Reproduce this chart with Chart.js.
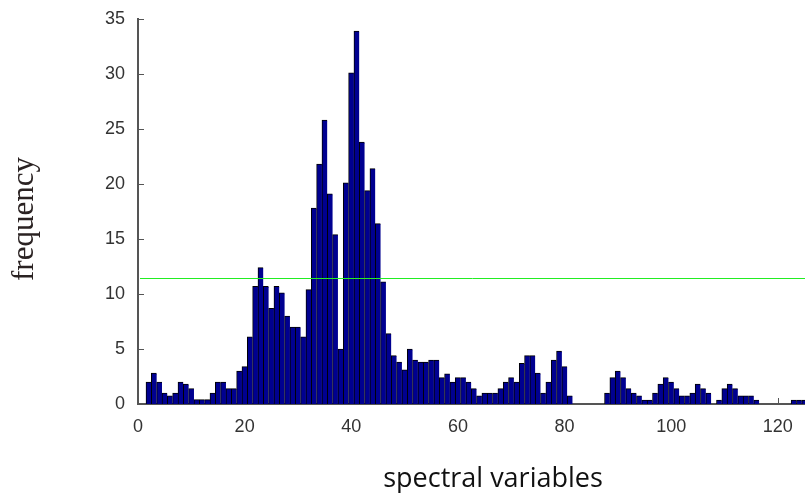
<!DOCTYPE html>
<html>
<head>
<meta charset="utf-8">
<script src="https://cdn.jsdelivr.net/npm/chart.js@4.4.0/dist/chart.umd.min.js"></script>
<style>
  html, body { margin: 0; padding: 0; background: #fff; overflow: hidden; }
  #wrap { width: 805px; height: 493px; }
</style>
</head>
<body>
<div id="wrap"><canvas id="freqChart" width="805" height="493"></canvas></div>
<script>
// Histogram values, one bar per spectral variable
const firstVariable = 2;
const frequencies = [
    2.0, 2.8, 2.0, 1.0, 0.75, 1.0, 2.0, 1.8, 1.4, 0.4,
    0.4, 0.4, 1.0, 2.0, 2.0, 1.4, 1.4, 3.0, 3.4, 6.1,
    10.7, 12.4, 10.7, 8.7, 10.7, 10.1, 8.0, 7.0, 7.0, 6.1,
    10.4, 17.8, 21.8, 25.8, 19.1, 15.4, 5.0, 20.1, 30.1, 33.9,
    23.8, 19.4, 21.4, 16.4, 11.1, 6.4, 4.4, 3.8, 3.1, 5.0,
    4.0, 3.8, 3.8, 4.0, 4.0, 2.4, 2.75, 2.0, 2.4, 2.4,
    2.0, 1.4, 0.75, 1.0, 1.0, 1.0, 1.4, 2.0, 2.4, 2.0,
    3.7, 4.4, 4.4, 2.8, 1.0, 2.0, 4.0, 4.8, 3.4, 0.75,
    0, 0, 0, 0, 0, 0, 1.0, 2.4, 3.0, 2.4,
    1.4, 1.0, 0.75, 0.35, 0.35, 1.0, 1.8, 2.4, 2.0, 1.4,
    0.75, 0.75, 1.0, 1.8, 1.4, 1.0, 0, 0.35, 1.4, 1.8,
    1.4, 0.75, 0.75, 0.75, 0.35, 0, 0, 0, 0, 0,
    0, 0.35, 0.35, 0.35
];
const meanLevel = 11.5;  // green threshold line
const xTicks = [0, 20, 40, 60, 80, 100, 120];
const yTicks = [0, 5, 10, 15, 20, 25, 30, 35];
const xMax = 125.1;
const yMax = 35;

const variables = frequencies.map((f, i) => firstVariable + i);

const tickFont = { family: '"Liberation Sans", Arial, sans-serif', size: 18 };
const axisColor = '#555';

// Inward tick marks (matlab style), the threshold line and the two axis titles
const axisExtras = {
    id: 'axisExtras',
    beforeDatasetsDraw(chart) {
        const { ctx, chartArea, scales } = chart;
        ctx.save();
        ctx.strokeStyle = axisColor;
        ctx.lineWidth = 1;
        ctx.beginPath();
        yTicks.forEach(v => {
            const py = Math.round(scales.y.getPixelForValue(v)) + 0.5;
            ctx.moveTo(chartArea.left, py);
            ctx.lineTo(chartArea.left + 6, py);
        });
        xTicks.forEach(v => {
            const px = Math.round(scales.x.getPixelForValue(v)) + 0.5;
            ctx.moveTo(px, chartArea.bottom);
            ctx.lineTo(px, chartArea.bottom - 6);
        });
        ctx.stroke();
        ctx.restore();
    },
    afterDatasetsDraw(chart) {
        const { ctx, chartArea, scales } = chart;
        const py = Math.round(scales.y.getPixelForValue(meanLevel)) + 0.5;
        ctx.save();
        ctx.strokeStyle = '#22ee22';
        ctx.lineWidth = 1;
        ctx.beginPath();
        ctx.moveTo(chartArea.left + 2, py);
        ctx.lineTo(chartArea.right, py);
        ctx.stroke();
        ctx.restore();
    },
    afterDraw(chart) {
        const ctx = chart.ctx;
        ctx.save();
        ctx.fillStyle = '#2a2222';
        ctx.font = '31px "Liberation Serif", "Times New Roman", serif';
        ctx.textAlign = 'center';
        ctx.textBaseline = 'alphabetic';
        ctx.translate(33, 219);
        ctx.rotate(-Math.PI / 2);
        ctx.fillText('frequency', 0, 0);
        ctx.restore();

        ctx.save();
        ctx.fillStyle = '#111';
        ctx.font = '27px "Open Sans", sans-serif';
        ctx.textAlign = 'center';
        ctx.textBaseline = 'alphabetic';
        ctx.fillText('spectral variables', 493, 487);
        ctx.restore();
    }
};

const ctx = document.getElementById('freqChart').getContext('2d');

const config = {
    type: 'bar',
    data: {
        datasets: [{
            data: variables.map((v, i) => ({ x: v, y: frequencies[i] })),
            backgroundColor: '#000090',
            borderColor: '#000000',
            borderWidth: { top: 1, left: 1, right: 0, bottom: 0 },
            barPercentage: 1,
            categoryPercentage: 1
        }]
    },
    options: {
        responsive: false,
        animation: false,
        devicePixelRatio: 1,
        layout: { padding: { top: 19, right: 0, bottom: 0, left: 0 } },
        plugins: {
            legend: { display: false },
            tooltip: { enabled: false }
        },
        scales: {
            x: {
                type: 'linear',
                min: 0,
                max: xMax,
                offset: false,
                grid: { display: false },
                border: { color: axisColor, width: 2 },
                ticks: { font: tickFont, color: '#333', padding: 4, maxRotation: 0 },
                afterBuildTicks: scale => { scale.ticks = xTicks.map(v => ({ value: v })); },
                afterFit: scale => { scale.height = 89; }
            },
            y: {
                min: 0,
                max: yMax,
                grid: { display: false },
                border: { color: axisColor, width: 2 },
                ticks: { font: tickFont, color: '#333', padding: 5 },
                afterBuildTicks: scale => { scale.ticks = yTicks.map(v => ({ value: v })); },
                afterFit: scale => { scale.width = 138; }
            }
        }
    },
    plugins: [axisExtras]
};

const freqChart = new Chart(ctx, config);
</script>
</body>
</html>
